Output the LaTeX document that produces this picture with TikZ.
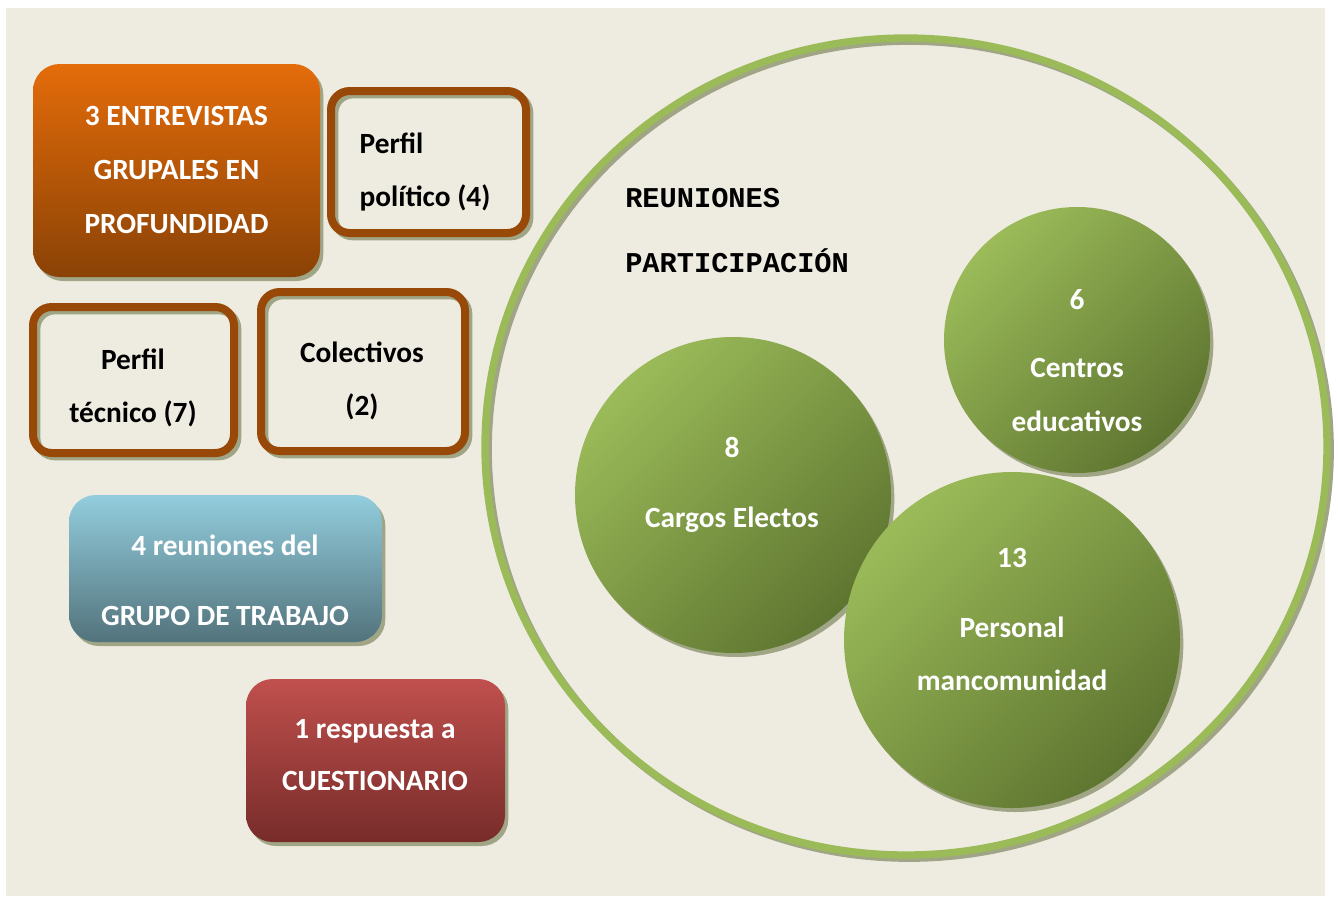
\documentclass[tikz,border=0pt]{standalone}
\usepackage{fontspec}
\setmainfont{Carlito}
\newfontfamily\monofont{Liberation Mono}
\usetikzlibrary{shapes.geometric}
\definecolor{fondo}{HTML}{EEECE1}
\definecolor{sombraC}{HTML}{9FA585}
\definecolor{marron}{HTML}{984807}
\definecolor{naranjaA}{HTML}{E46C0A}
\definecolor{naranjaM}{HTML}{B85800}
\definecolor{naranjaB}{HTML}{8A4206}
\definecolor{azulA}{HTML}{93CDDD}
\definecolor{azulM}{HTML}{74A2AF}
\definecolor{azulB}{HTML}{52737C}
\definecolor{rojoA}{HTML}{C0504D}
\definecolor{rojoM}{HTML}{9D3F3C}
\definecolor{rojoB}{HTML}{772C2A}
\definecolor{verdeA}{HTML}{9BBB59}
\definecolor{verdeB}{HTML}{5E7530}
\begin{document}
\begin{tikzpicture}[x=0.75pt,y=-0.75pt,
    sombra/.style={preaction={fill=sombraC, transform canvas={shift={(2.5pt,-3pt)}}}},
    caja/.style={rectangle, rounded corners=20pt, inner sep=0pt, sombra},
    marco/.style={rectangle, rounded corners=14pt, inner sep=0pt, draw=marron, line width=6pt,
        preaction={draw=sombraC, line width=6pt, transform canvas={shift={(2.5pt,-2.5pt)}}}},
    bola/.style={circle, inner sep=0pt, sombra, top color=verdeA, bottom color=verdeB, shading angle=45},
    txtb/.style={text=white, align=center, font=\fontsize{22}{40}\selectfont\bfseries},
    txtn/.style={text=black, align=center, font=\fontsize{22}{40}\selectfont\bfseries}]
    \useasboundingbox (0,0) rectangle (1338,896);
    \fill[fondo] (6,8) rectangle (1325,896);
    % cajas de la izquierda
    \node[caja, minimum width=215.25pt, minimum height=159.75pt, top color=naranjaA, middle color=naranjaM, bottom color=naranjaB] (entrevistas) at (176.5,170.5) {};
    \node[marco, minimum width=146.25pt, minimum height=106.5pt] (politico) at (428.5,162) {};
    \node[marco, minimum width=150.75pt, minimum height=109.5pt] (tecnico) at (133.5,380) {};
    \node[marco, minimum width=153pt, minimum height=119.25pt] (colectivos) at (363,371.5) {};
    \node[caja, minimum width=234.75pt, minimum height=110.25pt, top color=azulA, middle color=azulM, bottom color=azulB] (grupo) at (225.5,568.5) {};
    \node[caja, minimum width=194.25pt, minimum height=122.25pt, top color=rojoA, middle color=rojoM, bottom color=rojoB] (cuestionario) at (375.5,760.5) {};
    % circulo grande y reuniones
    \node[ellipse, inner sep=0pt, minimum width=631.5pt, minimum height=612.75pt, draw=verdeA, line width=5.5pt,
        preaction={draw=sombraC, line width=5.5pt, transform canvas={shift={(2.4pt,-2.4pt)}}}] (reuniones) at (906,446.5) {};
    \node[bola, minimum size=237pt] (cargos) at (733,495) {};
    \node[bola, minimum size=199.5pt] (centros) at (1077,340) {};
    \node[bola, minimum size=252pt] (personal) at (1012,640) {};
    % textos
    \node[txtb] (tEntrevistas) at (176.5,170) {3 ENTREVISTAS\\[0.5pt]GRUPALES EN\\[0.5pt]PROFUNDIDAD};
    \node[txtn, align=left] (tPolitico) at (425,172) {Perfil\\político (4)};
    \node[txtn] (tTecnico) at (133,388) {Perfil\\técnico (7)};
    \node[txtn] (tColectivos) at (362,381) {Colectivos\\(2)};
    \node[txtb] (tGrupo) at (225,580) {4 reuniones del\\[12.5pt]GRUPO DE TRABAJO};
    \node[txtb] (tCuestionario) at (375,755) {1 respuesta a\\[-1pt]CUESTIONARIO};
    \node[anchor=west, inner sep=0pt, align=left, font=\monofont\bfseries\fontsize{21.5}{48.75}\selectfont] (tReuniones) at (625,230.5) {REUNIONES\\PARTICIPACIÓN};
    \node[txtb] (tCargos) at (732,485) {8\\[12.5pt]Cargos Electos};
    \node[txtb] (tCentros) at (1077,360.5) {6\\[11pt]Centros\\educativos};
    \node[txtb] (tPersonal) at (1012,619.5) {13\\[12.5pt]Personal\\mancomunidad};
\end{tikzpicture}
\end{document}
